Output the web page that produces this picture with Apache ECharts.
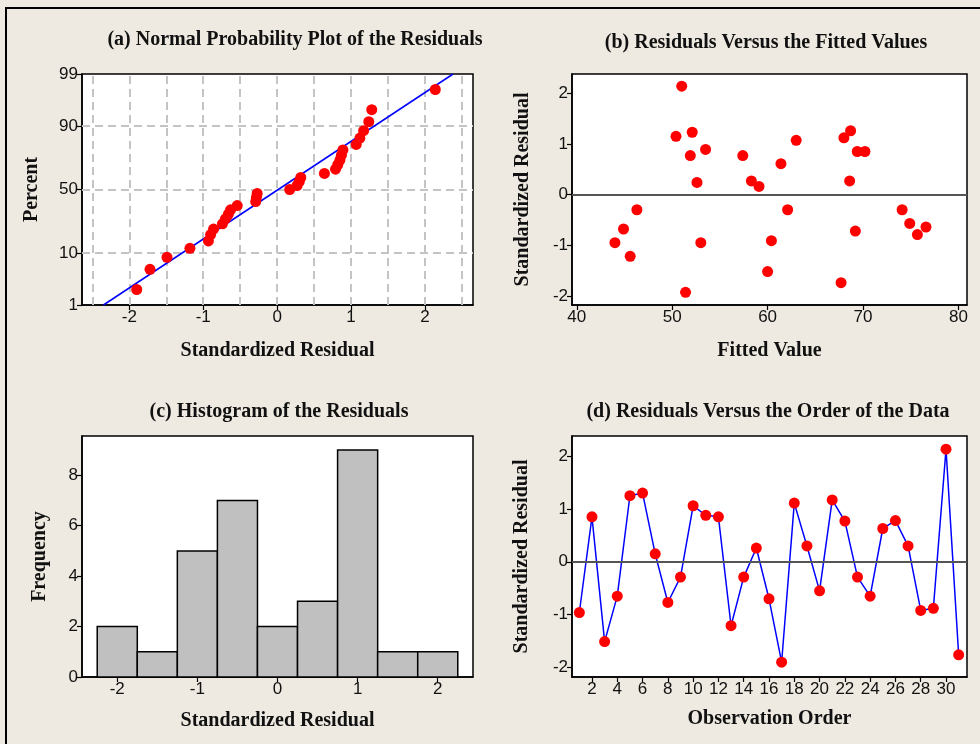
<!DOCTYPE html>
<html>
<head>
<meta charset="utf-8">
<script src="https://cdn.jsdelivr.net/npm/echarts@6/dist/echarts.min.js"></script>
<style>
	html, body { margin: 0; padding: 0; background: #EEEAE1; }
	#residual-plots { width: 980px; height: 744px; }
</style>
</head>
<body>
<div id="residual-plots"></div>
<script>
// ---------- DATA ----------

// (a) normal probability plot: sorted residuals and their percent ranks
const probResiduals = [-1.90, -1.72, -1.49, -1.18, -0.93, -0.90, -0.86, -0.74, -0.70, -0.66, -0.63, -0.54,
	-0.29, -0.28, -0.27, 0.17, 0.27, 0.30, 0.32, 0.64, 0.79, 0.82, 0.85, 0.87, 0.89, 1.07, 1.12, 1.17, 1.24, 1.28, 2.14];
const probPercents = [2.2, 5.4, 8.6, 11.8, 15.0, 18.2, 21.3, 24.5, 27.7, 30.9, 34.1, 37.3,
	40.4, 43.6, 46.8, 50.0, 53.2, 56.4, 59.6, 62.7, 65.9, 69.1, 72.3, 75.5, 78.7, 81.8, 85.0, 88.2, 91.4, 94.6, 97.8];
const fitLineX = [-2.35, 2.38];
const fitLinePercent = [1, 99];
const percentTicks = [1, 10, 50, 90, 99];
const probGridX = [-2.5, -2, -1.5, -1, -0.5, 0, 0.5, 1, 1.5, 2, 2.5];
const probGridPercent = [10, 50, 90];

// (b) residuals versus fitted values
const fittedValues = [51.0, 50.4, 52.1, 51.9, 53.5, 52.6, 46.3, 44.9, 44.0, 45.6, 53.0, 51.4,
	57.4, 58.3, 59.1, 61.4, 63.0, 62.1, 60.4, 60.0, 68.0, 68.7, 69.4, 70.2, 68.6, 69.2, 67.7,
	74.1, 74.9, 75.7, 76.6];
const fittedResiduals = [2.14, 1.15, 1.23, 0.77, 0.89, 0.24, -0.30, -0.68, -0.95, -1.22, -0.95, -1.93,
	0.77, 0.27, 0.16, 0.61, 1.07, -0.30, -0.91, -1.52, 1.12, 1.26, 0.85, 0.85, 0.27, -0.72, -1.74,
	-0.30, -0.57, -0.79, -0.64];

// (c) histogram
const binCenters = [-2, -1.5, -1, -0.5, 0, 0.5, 1, 1.5, 2];
const binCounts = [2, 1, 5, 7, 2, 3, 9, 1, 1];
const binWidth = 0.5;

// (d) residuals versus observation order
const orderResiduals = [-0.96, 0.85, -1.51, -0.65, 1.25, 1.30, 0.15, -0.77, -0.29, 1.06, 0.88, 0.85,
	-1.21, -0.29, 0.26, -0.70, -1.90, 1.11, 0.30, -0.55, 1.17, 0.77, -0.29, -0.65, 0.63, 0.78, 0.30,
	-0.92, -0.88, 2.13, -1.76];

const residualTicks = [-2, -1, 0, 1, 2];
const fittedTicks = [40, 50, 60, 70, 80];
const orderTicks = [2, 4, 6, 8, 10, 12, 14, 16, 18, 20, 22, 24, 26, 28, 30];
const freqTicks = [0, 2, 4, 6, 8];

// ---------- HELPERS ----------

// inverse normal cdf (Acklam), used as the probability scale of panel (a)
function probit(p) {
	var a = [-39.69683028665376, 220.9460984245205, -275.9285104469687, 138.3577518672690, -30.66479806614716, 2.506628277459239];
	var b = [-54.47609879822406, 161.5858368580409, -155.6989798598866, 66.80131188771972, -13.28068155211977];
	var c = [-0.007784894002430293, -0.3223964580411365, -2.400758277161838, -2.549732539343734, 4.374664141464968, 2.938163982698783];
	var d = [0.007784695709041462, 0.3224671290700398, 2.445134137142996, 3.754408661907416];
	var pl = 0.02425, q, r;
	if (p < pl) {
		q = Math.sqrt(-2 * Math.log(p));
		return (((((c[0] * q + c[1]) * q + c[2]) * q + c[3]) * q + c[4]) * q + c[5]) / ((((d[0] * q + d[1]) * q + d[2]) * q + d[3]) * q + 1);
	}
	if (p > 1 - pl) {
		q = Math.sqrt(-2 * Math.log(1 - p));
		return -(((((c[0] * q + c[1]) * q + c[2]) * q + c[3]) * q + c[4]) * q + c[5]) / ((((d[0] * q + d[1]) * q + d[2]) * q + d[3]) * q + 1);
	}
	q = p - 0.5;
	r = q * q;
	return (((((a[0] * r + a[1]) * r + a[2]) * r + a[3]) * r + a[4]) * r + a[5]) * q / (((((b[0] * r + b[1]) * r + b[2]) * r + b[3]) * r + b[4]) * r + 1);
}

function pz(percent) {
	return probit(percent / 100);
}

function percentLabel(z) {
	let best = percentTicks[0];
	percentTicks.forEach(function (p) {
		if (Math.abs(pz(p) - z) < Math.abs(pz(best) - z)) best = p;
	});
	return String(best);
}

const labelFont = {
	fontFamily: 'Liberation Sans',
	fontSize: 17,
	color: '#111'
};
const nameFont = {
	fontFamily: 'Liberation Serif',
	fontWeight: 'bold',
	fontSize: 20,
	color: '#111'
};

function makeAxis(gridIndex, min, max, ticks, name, nameGap, formatter) {
	return {
		type: 'value',
		gridIndex: gridIndex,
		min: min,
		max: max,
		name: name,
		nameLocation: 'middle',
		nameGap: nameGap,
		nameTextStyle: nameFont,
		axisLine: { show: true, onZero: false, lineStyle: { color: '#000', width: 1.5 } },
		axisTick: { show: true, length: 5, customValues: ticks, lineStyle: { color: '#000', width: 1.2 } },
		axisLabel: Object.assign({ customValues: ticks, margin: 4, formatter: formatter }, labelFont),
		splitLine: { show: false }
	};
}

const zeroLine = {
	silent: true,
	symbol: 'none',
	label: { show: false },
	lineStyle: { color: '#555', width: 2, type: 'solid' },
	data: [{ yAxis: 0 }]
};

// ---------- CHART ----------

var residualChart = echarts.init(document.getElementById('residual-plots'));

const gridBase = { show: true, backgroundColor: '#fff', borderColor: '#000', borderWidth: 1.5 };

let residualOptions = {
	backgroundColor: '#EEEAE1',
	animation: false,
	grid: [
		Object.assign({ left: 82, top: 74, width: 391, height: 231 }, gridBase),
		Object.assign({ left: 572, top: 74, width: 395, height: 231 }, gridBase),
		Object.assign({ left: 82, top: 436, width: 391, height: 241 }, gridBase),
		Object.assign({ left: 572, top: 436, width: 395, height: 241 }, gridBase)
	],
	xAxis: [
		makeAxis(0, -2.64, 2.65, residualTicks, 'Standardized Residual', 36),
		makeAxis(1, 39.5, 80.9, fittedTicks, 'Fitted Value', 36),
		makeAxis(2, -2.44, 2.44, residualTicks, 'Standardized Residual', 34),
		makeAxis(3, 0.42, 31.66, orderTicks, 'Observation Order', 32)
	],
	yAxis: [
		makeAxis(0, pz(1), pz(99), percentTicks.map(pz), 'Percent', 40, percentLabel),
		makeAxis(1, -2.18, 2.38, residualTicks, 'Standardized Residual', 39),
		makeAxis(2, 0, 9.56, freqTicks, 'Frequency', 32),
		makeAxis(3, -2.18, 2.38, residualTicks, 'Standardized Residual', 40)
	],
	graphic: [
		{ type: 'rect', shape: { x: 6, y: 8, width: 990, height: 760 }, style: { fill: 'none', stroke: '#000', lineWidth: 2 }, silent: true },
		{ type: 'text', x: 295, y: 40, style: Object.assign({ text: '(a) Normal Probability Plot of the Residuals', align: 'center', verticalAlign: 'middle' }, nameFont, { fill: '#111' }) },
		{ type: 'text', x: 766, y: 43, style: Object.assign({ text: '(b) Residuals Versus the Fitted Values', align: 'center', verticalAlign: 'middle' }, nameFont, { fill: '#111' }) },
		{ type: 'text', x: 279, y: 412, style: Object.assign({ text: '(c) Histogram of the Residuals', align: 'center', verticalAlign: 'middle' }, nameFont, { fill: '#111' }) },
		{ type: 'text', x: 768, y: 412, style: Object.assign({ text: '(d) Residuals Versus the Order of the Data', align: 'center', verticalAlign: 'middle' }, nameFont, { fill: '#111' }) }
	],
	series: [
		// (a) fitted line plus dashed reference grid
		{
			type: 'line',
			xAxisIndex: 0,
			yAxisIndex: 0,
			symbol: 'none',
			z: 3,
			lineStyle: { color: '#0000FF', width: 1.5 },
			data: fitLineX.map((x, i) => [x, pz(fitLinePercent[i])]),
			markLine: {
				silent: true,
				symbol: 'none',
				label: { show: false },
				z: 1,
				lineStyle: { color: '#C4C4C4', width: 2, type: [8, 5] },
				data: probGridX.map(x => ({ xAxis: x })).concat(probGridPercent.map(p => ({ yAxis: pz(p) })))
			}
		},
		{
			type: 'scatter',
			xAxisIndex: 0,
			yAxisIndex: 0,
			symbolSize: 11,
			z: 4,
			itemStyle: { color: '#FF0000', opacity: 1 },
			data: probResiduals.map((x, i) => [x, pz(probPercents[i])])
		},
		// (b)
		{
			type: 'scatter',
			xAxisIndex: 1,
			yAxisIndex: 1,
			symbolSize: 11,
			itemStyle: { color: '#FF0000', opacity: 1 },
			data: fittedValues.map((x, i) => [x, fittedResiduals[i]]),
			markLine: zeroLine
		},
		// (c) histogram bars
		{
			type: 'custom',
			xAxisIndex: 2,
			yAxisIndex: 2,
			data: binCenters.map((x, i) => [x, binCounts[i]]),
			renderItem: function (params, api) {
				const p0 = api.coord([api.value(0) - binWidth / 2, 0]);
				const p1 = api.coord([api.value(0) + binWidth / 2, api.value(1)]);
				return {
					type: 'rect',
					shape: { x: p0[0], y: p1[1], width: p1[0] - p0[0], height: p0[1] - p1[1] },
					style: { fill: '#C0C0C0', stroke: '#000', lineWidth: 1.5 }
				};
			}
		},
		// (d)
		{
			type: 'line',
			xAxisIndex: 3,
			yAxisIndex: 3,
			symbol: 'circle',
			symbolSize: 11,
			itemStyle: { color: '#FF0000' },
			lineStyle: { color: '#0000FF', width: 1.5 },
			data: orderResiduals.map((v, i) => [i + 1, v]),
			markLine: zeroLine
		}
	]
};

residualChart.setOption(residualOptions);
</script>
</body>
</html>
